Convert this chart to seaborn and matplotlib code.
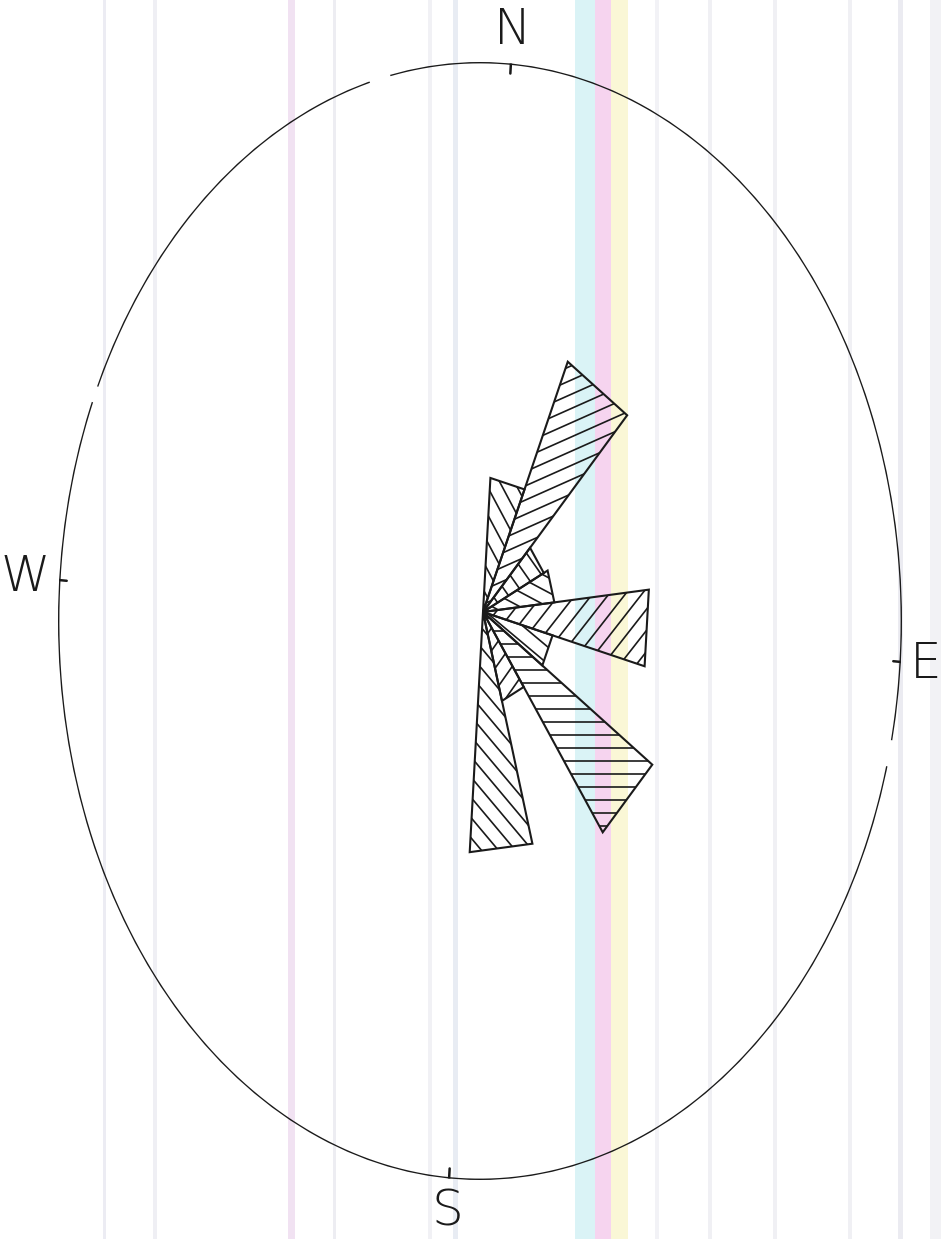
import numpy as np
import matplotlib
matplotlib.use("Agg")
import matplotlib.pyplot as plt
from matplotlib.collections import LineCollection
from matplotlib.transforms import IdentityTransform
import seaborn as sns

sns.set_theme(style="white")
plt.rcParams["font.family"] = ["DejaVu Sans"]

# ---- rose diagram data: 20-degree direction classes (outer circle = 1.0) ----
bin_start_deg = [0, 20, 40, 60, 80, 100, 120, 140, 160]
bin_length = [0.24, 0.49, 0.16, 0.17, 0.395, 0.17, 0.485, 0.165, 0.43]
BIN_WIDTH_DEG = 20

# hatch direction of each class, degrees from the page horizontal
hatch_angle = [-62, 24, -55, -28, 52, -40, 0, 55, -50]

compass_labels = ["N", "E", "S", "W"]
compass_deg = [0, 90, 180, 270]

# ---- figure geometry ----
W, H, DPI = 941, 1239, 100
TILT = 4.2            # whole plot sits slightly turned clockwise
INK = "#1a1a1a"

fig = plt.figure(figsize=(W / DPI, H / DPI), dpi=DPI)
fig.patch.set_facecolor("white")

# faint vertical streaks of the paper/plotter sheet
bg = fig.add_axes([0, 0, 1, 1])
bg.set_xlim(0, W)
bg.set_ylim(H, 0)
bg.axis("off")
streaks = [
    (103, 106, "#ececf3"), (153, 157, "#efeff4"), (288, 295, "#f1e2f2"),
    (333, 336, "#ededf2"), (428, 432, "#f1f1f5"), (453, 458, "#e8ecf3"),
    (575, 595, "#daf3f6"), (595, 611, "#f6d4ef"), (611, 628, "#faf7d6"),
    (655, 659, "#f2f2f6"), (708, 712, "#f0f0f4"), (773, 777, "#f0f0f4"),
    (848, 852, "#f0f0f4"), (898, 903, "#ebebf1"), (930, 941, "#f2f2f5"),
]
for x0, x1, c in streaks:
    bg.axvspan(x0, x1, color=c, lw=0, zorder=0)


def make_polar(cx, cy, rx, ry):
    rect = [(cx - rx) / W, (H - (cy + ry)) / H, 2 * rx / W, 2 * ry / H]
    ax = fig.add_axes(rect, projection="polar")
    ax.set_aspect("auto")
    ax.set_theta_zero_location("N", offset=-TILT)
    ax.set_theta_direction(-1)
    ax.grid(False)
    ax.set_xticks([])
    ax.set_yticks([])
    ax.spines["polar"].set_visible(False)
    ax.patch.set_alpha(0)
    return ax


def full_circle(ax):
    ax.set_xlim(0, 2 * np.pi)
    ax.set_ylim(0, 1)


# outer reference ellipse with compass ticks and letters
frame = make_polar(480, 621, 422, 559)
theta = np.linspace(0, 360, 2881)
ring = np.ones_like(theta)
for g0, g1 in [(340.7, 343.5), (98.2, 100.8), (288.9, 290.6)]:
    ring[(theta > g0) & (theta < g1)] = np.nan
frame.plot(np.deg2rad(theta), ring, color=INK, lw=2.0, solid_capstyle="butt")

for lab, d in zip(compass_labels, compass_deg):
    frame.plot([np.deg2rad(d)] * 2, [0.982, 1.018], color=INK, lw=1.8)
    rr = 1.08 if lab == "W" else 1.06
    frame.text(np.deg2rad(d), rr, lab, ha="center", va="center",
               fontsize=36, color=INK, fontweight="light",
               clip_on=False)
full_circle(frame)

# the rose itself: plotter-style sectors whose outer edge is a straight chord
rose = make_polar(483, 612, 422, 560)
bars = rose.bar(np.deg2rad(np.array(bin_start_deg) + BIN_WIDTH_DEG / 2),
                bin_length, width=np.deg2rad(BIN_WIDTH_DEG),
                facecolor="none", edgecolor=INK, linewidth=1.5, zorder=3)
for p in bars.patches:
    p.get_path()._interpolation_steps = 1
full_circle(rose)

fig.canvas.draw()
SPACING = 13.0
for patch, ang in zip(bars.patches, hatch_angle):
    trf = patch.get_transform()
    path = patch.get_path()
    verts = trf.transform_path(path).vertices
    x0, y0 = verts.min(axis=0)
    x1, y1 = verts.max(axis=0)
    cx, cy = (x0 + x1) / 2, (y0 + y1) / 2
    diag = np.hypot(x1 - x0, y1 - y0)
    a = np.deg2rad(ang)
    u = np.array([np.cos(a), np.sin(a)])
    n = np.array([-np.sin(a), np.cos(a)])
    k_max = int(diag / SPACING) + 1
    segs = []
    for k in range(-k_max, k_max + 1):
        p = np.array([cx, cy]) + n * k * SPACING
        segs.append([p - u * diag, p + u * diag])
    lc = LineCollection(segs, colors=INK, linewidths=1.2,
                        transform=IdentityTransform(), zorder=2)
    rose.add_collection(lc, autolim=False)
    lc.set_clip_path(path, trf)

fig.savefig("out.png", dpi=DPI, facecolor="white")
